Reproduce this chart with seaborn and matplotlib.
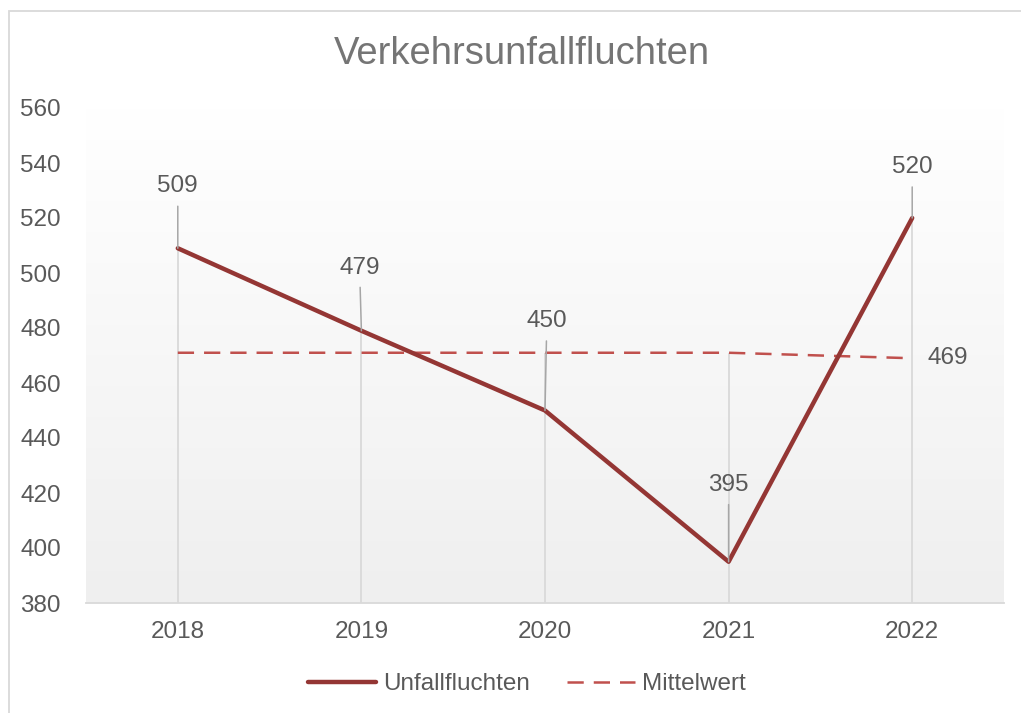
import numpy as np
import pandas as pd
import matplotlib
matplotlib.use("Agg")
import matplotlib.pyplot as plt
import seaborn as sns
from matplotlib.colors import LinearSegmentedColormap
from matplotlib.patches import Rectangle

# Daten
jahre = ["2018", "2019", "2020", "2021", "2022"]
unfallfluchten = [509, 479, 450, 395, 520]
mittelwert = [471, 471, 471, 471, 469]
y_ticks = [380, 400, 420, 440, 460, 480, 500, 520, 540, 560]

# Abstand der Beschriftungen über den Punkten (Datenwerte)
label_offset = [22.5, 23, 32.5, 28, 18.5]
label_shift = [0.0, -0.01, 0.01, 0.0, 0.0]

df = pd.DataFrame({"Jahr": jahre, "Unfallfluchten": unfallfluchten, "Mittelwert": mittelwert})

sns.set_theme(style="white")
plt.rcParams["font.family"] = ["Liberation Sans", "DejaVu Sans"]
fs = 17.5

fig = plt.figure(figsize=(10.21, 7.13), dpi=100)
ax = fig.add_axes([86 / 1021, 110 / 713, (1004 - 86) / 1021, (603 - 108) / 713])

# Hintergrund mit Verlauf
cmap = LinearSegmentedColormap.from_list("bg", ["#ffffff", "#efefef"])
ax.imshow(np.linspace(0, 1, 256).reshape(-1, 1), cmap=cmap, aspect="auto",
          extent=(-0.5, 4.5, y_ticks[0], y_ticks[-1]), zorder=0)

# Lotlinien
for i, (a, b) in enumerate(zip(unfallfluchten, mittelwert)):
    ax.vlines(i, y_ticks[0], max(a, b), color="#d9d9d9", lw=1.3, zorder=1)

sns.lineplot(data=df, x="Jahr", y="Unfallfluchten", ax=ax, color="#943634",
             lw=3.2, label="Unfallfluchten", zorder=3, sort=False)
sns.lineplot(data=df, x="Jahr", y="Mittelwert", ax=ax, color="#c0504d",
             lw=1.8, label="Mittelwert", zorder=2, sort=False)
ax.lines[-1].set_dashes((6.5, 4))

for i, (v, off, sh) in enumerate(zip(unfallfluchten, label_offset, label_shift)):
    ax.annotate(str(v), xy=(i, v), xytext=(i + sh, v + off), ha="center", va="center",
                fontsize=fs, color="#595959", zorder=5,
                arrowprops=dict(arrowstyle="-", color="#a6a6a6", lw=1.1,
                                shrinkA=4, shrinkB=0))

ax.annotate(str(mittelwert[-1]), xy=(len(jahre) - 1, mittelwert[-1]),
            xytext=(11, 0), textcoords="offset points", ha="left", va="center",
            fontsize=fs, color="#595959")

ax.set_xlim(-0.5, len(jahre) - 0.5)
ax.set_ylim(y_ticks[0], y_ticks[-1])
ax.set_yticks(y_ticks)
ax.set_xticks(range(len(jahre)))
ax.set_xticklabels(jahre)
ax.tick_params(axis="both", length=0, labelsize=fs, labelcolor="#595959")
ax.tick_params(axis="y", pad=18)
ax.tick_params(axis="x", pad=13)
ax.set_xlabel("")
ax.set_ylabel("")
for s in ["top", "right", "left"]:
    ax.spines[s].set_visible(False)
ax.spines["bottom"].set_color("#d9d9d9")
ax.spines["bottom"].set_linewidth(1.3)

fig.text(522 / 1021, 1 - 54 / 713, "Verkehrsunfallfluchten", ha="center", va="center",
         fontsize=27.5, color="#757575")

ax.legend(loc="center", bbox_to_anchor=(527 / 1021, 29 / 713),
          bbox_transform=fig.transFigure, ncol=2, frameon=False, fontsize=fs,
          handlelength=2.8, handletextpad=0.3, columnspacing=1.5,
          labelcolor="#595959")

# Rahmen des Diagramms
fig.patches.append(Rectangle((9 / 1021, -0.1), 1.2, 1 - 11 / 713 + 0.1,
                             transform=fig.transFigure, fill=False,
                             edgecolor="#d9d9d9", lw=1.3))

fig.savefig("out.png", dpi=100)
